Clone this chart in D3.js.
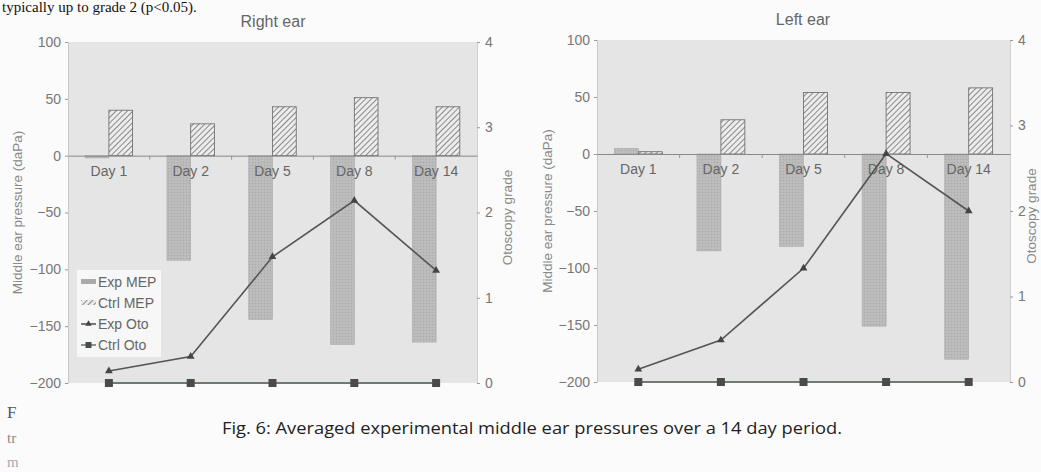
<!DOCTYPE html>
<html>
<head>
<meta charset="utf-8">
<script src="https://cdn.jsdelivr.net/npm/d3@7"></script>
<style>
  body { margin: 0; background: #fbfbfb; }
  svg { display: block; font-family: "Liberation Sans", Arial, sans-serif; }
</style>
</head>
<body>
<svg id="chart" width="1041" height="472"></svg>
<script>
// data
var days = ["Day 1", "Day 2", "Day 5", "Day 8", "Day 14"];
var mepTicks = [100, 50, 0, -50, -100, -150, -200];
var otoTicks = [4, 3, 2, 1, 0];

var rightExpMep = [-2, -92, -144, -166, -164];
var rightCtrlMep = [40, 28, 43, 51, 43];
var rightExpOto = [0.14, 0.31, 1.48, 2.14, 1.32];
var rightCtrlOto = [0, 0, 0, 0, 0];

var leftExpMep = [5, -85, -81, -151, -180];
var leftCtrlMep = [2, 30, 54, 54, 58];
var leftExpOto = [0.15, 0.49, 1.33, 2.67, 2.0];
var leftCtrlOto = [0, 0, 0, 0, 0];

var legendLabels = ["Exp MEP", "Ctrl MEP", "Exp Oto", "Ctrl Oto"];

var svg = d3.select("#chart");
var defs = svg.append("defs");

// hatch for control bars
var hatch = defs.append("pattern")
    .attr("id", "hatch")
    .attr("patternUnits", "userSpaceOnUse")
    .attr("width", 4).attr("height", 4)
    .attr("patternTransform", "rotate(45)");
hatch.append("rect").attr("width", 4).attr("height", 4).attr("fill", "#ececec");
hatch.append("line").attr("x1", 0).attr("y1", 0).attr("x2", 0).attr("y2", 4)
    .attr("stroke", "#555").attr("stroke-width", 1.3);

// stippled grey for experimental bars
var dots = defs.append("pattern")
    .attr("id", "dots")
    .attr("patternUnits", "userSpaceOnUse")
    .attr("width", 3).attr("height", 3);
dots.append("rect").attr("width", 3).attr("height", 3).attr("fill", "#bababa");
dots.append("rect").attr("width", 1).attr("height", 1).attr("fill", "#a8a8a8");
dots.append("rect").attr("x", 1.5).attr("y", 1.5).attr("width", 1).attr("height", 1).attr("fill", "#c8c8c8");

function drawPanel(p) {
  var x = d3.scaleBand().domain(days).range([p.left, p.right]);
  var y = d3.scaleLinear().domain([-200, 100]).range([p.bottom, p.top]);
  var y2 = d3.scaleLinear().domain([0, 4]).range([p.bottom, p.top]);
  var bw = x.bandwidth() * 0.29;
  var g = svg.append("g");

  g.append("rect")
    .attr("x", p.left).attr("y", p.top)
    .attr("width", p.right - p.left).attr("height", p.bottom - p.top)
    .attr("fill", "#e5e5e5");

  // left axis
  var ax = g.append("g").attr("transform", "translate(" + p.left + ",0)")
    .call(d3.axisLeft(y).tickValues(mepTicks).tickSize(3).tickPadding(4)
      .tickFormat(function(d) { return d < 0 ? "\u2212" + Math.abs(d) : d; }));
  ax.select(".domain").attr("stroke", "#c8c8c8");
  ax.selectAll(".tick line").attr("stroke", "#999");
  ax.selectAll("text").attr("fill", "#777").attr("font-size", 14);

  // right axis
  var ax2 = g.append("g").attr("transform", "translate(" + p.right + ",0)")
    .call(d3.axisRight(y2).tickValues(otoTicks).tickSize(3).tickPadding(5).tickFormat(d3.format("d")));
  ax2.select(".domain").attr("stroke", "#d0d0d0");
  ax2.selectAll(".tick line").attr("stroke", "#999");
  ax2.selectAll("text").attr("fill", "#777").attr("font-size", 14);

  // bars
  g.selectAll(".exp").data(p.expMep).enter().append("rect")
    .attr("x", function(d, i) { return x(days[i]) + x.bandwidth() / 2 - bw; })
    .attr("y", function(d) { return y(Math.max(0, d)); })
    .attr("width", bw)
    .attr("height", function(d) { return Math.abs(y(d) - y(0)); })
    .attr("fill", "url(#dots)")
    .attr("stroke", "#a8a8a8").attr("stroke-width", 0.6);

  g.selectAll(".ctrl").data(p.ctrlMep).enter().append("rect")
    .attr("x", function(d, i) { return x(days[i]) + x.bandwidth() / 2; })
    .attr("y", function(d) { return y(Math.max(0, d)); })
    .attr("width", bw)
    .attr("height", function(d) { return Math.abs(y(d) - y(0)); })
    .attr("fill", "url(#hatch)")
    .attr("stroke", "#666").attr("stroke-width", 0.8);

  // category axis on zero line
  var cx = g.append("g").attr("transform", "translate(0," + y(0) + ")")
    .call(d3.axisBottom(x).tickSize(0).tickPadding(10));
  cx.select(".domain").attr("stroke", "#888");
  cx.selectAll("text").attr("fill", "#666").attr("font-size", 14);
  g.selectAll(".sep").data(days.slice(1)).enter().append("line")
    .attr("x1", function(d) { return x(d); }).attr("x2", function(d) { return x(d); })
    .attr("y1", y(0)).attr("y2", y(0) + 4)
    .attr("stroke", "#999");

  var cxf = function(d, i) { return x(days[i]) + x.bandwidth() / 2; };

  // control otoscopy
  var lineC = d3.line().x(cxf).y(function(d) { return y2(d); });
  g.append("path").datum(p.ctrlOto).attr("d", lineC)
    .attr("fill", "none").attr("stroke", "#6e7c70").attr("stroke-width", 2);
  g.selectAll(".sq").data(p.ctrlOto).enter().append("rect")
    .attr("x", function(d, i) { return cxf(d, i) - 4; })
    .attr("y", function(d) { return y2(d) - 4; })
    .attr("width", 8).attr("height", 8).attr("fill", "#4a4a4a");

  // experimental otoscopy
  g.append("path").datum(p.expOto).attr("d", lineC)
    .attr("fill", "none").attr("stroke", "#555").attr("stroke-width", 1.6);
  g.selectAll(".tri").data(p.expOto).enter().append("path")
    .attr("d", d3.symbol().type(d3.symbolTriangle).size(26))
    .attr("transform", function(d, i) { return "translate(" + cxf(d, i) + "," + y2(d) + ")"; })
    .attr("fill", "#444");

  // titles
  g.append("text").attr("x", p.titleX).attr("y", p.titleY)
    .attr("text-anchor", "middle").attr("fill", "#666").attr("font-size", 16)
    .text(p.title);
  g.append("text")
    .attr("transform", "translate(" + p.yLabelX + "," + (p.top + p.bottom) / 2 + ") rotate(-90)")
    .attr("text-anchor", "middle").attr("fill", "#888").attr("font-size", 13.5)
    .text("Middle ear pressure (daPa)");
  g.append("text")
    .attr("transform", "translate(" + p.y2LabelX + "," + ((p.top + p.bottom) / 2 + 5) + ") rotate(-90)")
    .attr("text-anchor", "middle").attr("fill", "#888").attr("font-size", 13.5)
    .text("Otoscopy grade");
  return g;
}

var gR = drawPanel({
  left: 68, right: 477, top: 42, bottom: 383,
  expMep: rightExpMep, ctrlMep: rightCtrlMep, expOto: rightExpOto, ctrlOto: rightCtrlOto,
  title: "Right ear", titleX: 273, titleY: 27, yLabelX: 22, y2LabelX: 512
});

drawPanel({
  left: 597, right: 1010, top: 40, bottom: 382,
  expMep: leftExpMep, ctrlMep: leftCtrlMep, expOto: leftExpOto, ctrlOto: leftCtrlOto,
  title: "Left ear", titleX: 803, titleY: 25, yLabelX: 552, y2LabelX: 1036
});

// legend (right ear panel)
var lg = gR.append("g").attr("transform", "translate(77,270)");
lg.append("rect").attr("width", 84).attr("height", 87).attr("fill", "#f7f7f7");
legendLabels.forEach(function(name, i) {
  var yy = 12 + i * 21;
  if (i === 0) lg.append("rect").attr("x", 4).attr("y", yy - 3).attr("width", 15).attr("height", 5).attr("fill", "#aaa");
  if (i === 1) lg.append("rect").attr("x", 4).attr("y", yy - 3).attr("width", 15).attr("height", 5).attr("fill", "url(#hatch)");
  if (i >= 2) {
    lg.append("line").attr("x1", 4).attr("x2", 19).attr("y1", yy).attr("y2", yy)
      .attr("stroke", i === 2 ? "#555" : "#6e7c70").attr("stroke-width", 1.6);
    if (i === 2) lg.append("path").attr("d", d3.symbol().type(d3.symbolTriangle).size(18))
      .attr("transform", "translate(11.5," + yy + ")").attr("fill", "#444");
    else lg.append("rect").attr("x", 8.5).attr("y", yy - 3).attr("width", 6).attr("height", 6).attr("fill", "#4a4a4a");
  }
  lg.append("text").attr("x", 21).attr("y", yy + 5).attr("font-size", 14).attr("fill", "#666").text(name);
});

// page fragments around the figure
svg.append("text").attr("x", 2).attr("y", 12).attr("font-family", "Liberation Serif, serif")
  .attr("font-size", 15).attr("fill", "#111").text("typically up to grade 2 (p<0.05).");
svg.append("text").attr("x", 7).attr("y", 418).attr("font-family", "Liberation Serif, serif")
  .attr("font-size", 17).attr("fill", "#555").text("F");
svg.append("text").attr("x", 7).attr("y", 443).attr("font-family", "Liberation Serif, serif")
  .attr("font-size", 15).attr("fill", "#888").text("tr");
svg.append("text").attr("x", 7).attr("y", 467).attr("font-family", "Liberation Serif, serif")
  .attr("font-size", 15).attr("fill", "#aaa").text("m");

// caption
svg.append("text").attr("x", 222).attr("y", 434)
  .attr("font-family", "Open Sans, sans-serif").attr("font-size", 16).attr("fill", "#222")
  .attr("textLength", 620).attr("lengthAdjust", "spacingAndGlyphs")
  .text("Fig. 6:  Averaged experimental middle ear pressures over a 14 day period.");
</script>
</body>
</html>
